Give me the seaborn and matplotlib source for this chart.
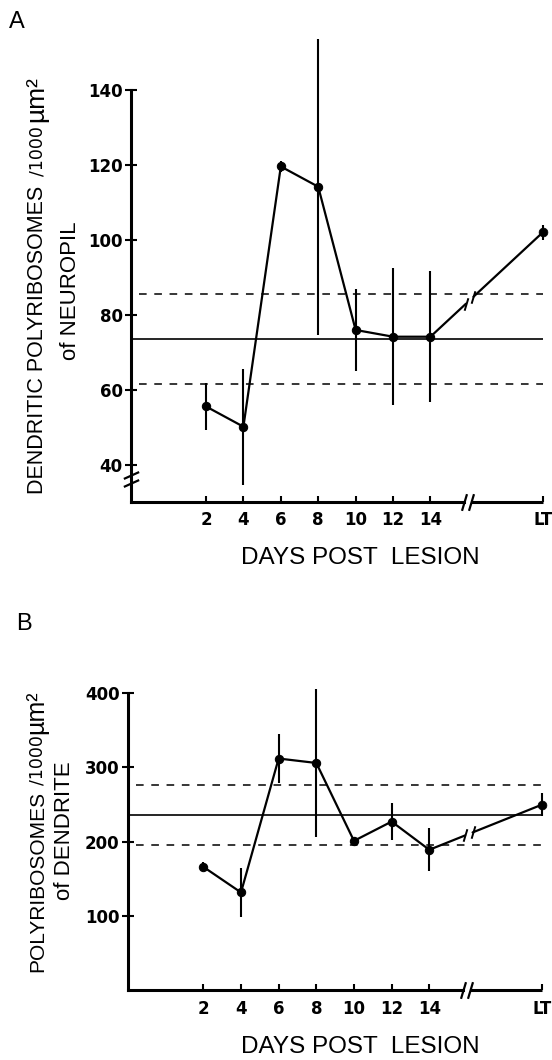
import numpy as np
import matplotlib
matplotlib.use("Agg")
import matplotlib.pyplot as plt
import seaborn as sns

W, H = 552, 1060

DAYS = [2, 4, 6, 8, 10, 12, 14]
X_TICK_LABELS = ["2", "4", "6", "8", "10", "12", "14", "LT"]
LT_POS = 20        # long-term point sits after the axis break
BREAK_POS = 16

# A: dendritic polyribosomes / 1000 um2 of neuropil
NEUROPIL_MEAN = [55.6, 50.2, 119.6, 114.2, 76.0, 74.2, 74.2]
NEUROPIL_ERR = [6.2, 15.5, 1.5, 39.5, 11.0, 18.3, 17.5]
NEUROPIL_LT = 102.0
NEUROPIL_LT_ERR = 2.0
NEUROPIL_CTRL = 73.7
NEUROPIL_CTRL_SD = 12.0
NEUROPIL_YTICKS = [40, 60, 80, 100, 120, 140]

# B: polyribosomes / 1000 um2 of dendrite
DENDRITE_MEAN = [166, 131.5, 312, 306, 201, 227, 189]
DENDRITE_ERR = [6, 33, 33, 100, 5, 25, 29]
DENDRITE_LT = 250
DENDRITE_LT_ERR = 15
DENDRITE_CTRL = 236
DENDRITE_CTRL_SD = 40
DENDRITE_YTICKS = [100, 200, 300, 400]

sns.set_style("ticks")
plt.rcParams["font.family"] = ["Liberation Sans", "DejaVu Sans"]
plt.rcParams.update({"text.color": "k", "axes.edgecolor": "k", "xtick.color": "k",
                     "ytick.color": "k", "axes.labelcolor": "k"})

SLASH = [(-0.3, -1), (0.3, 1)]


def panel(ax, mean, err, lt, lt_err, ctrl, sd, ybot, ytop, yticks, ylim_top):
    ax.set_xlim(-2, 20.5)
    ax.set_ylim(ybot, ylim_top)

    # control mean +- SD
    ax.hlines(ctrl, -2, LT_POS, color="k", lw=1.2)
    ax.hlines([ctrl - sd, ctrl + sd], -1.6, LT_POS, color="k", lw=1.1, linestyles=(0, (5, 5)))

    sns.lineplot(x=DAYS, y=mean, ax=ax, color="k", lw=1.6, marker="o", ms=6, mec="k", legend=False)
    ax.errorbar(DAYS + [LT_POS], mean + [lt], yerr=err + [lt_err], fmt="none",
                ecolor="k", elinewidth=1.5, capsize=0)
    sns.scatterplot(x=[LT_POS], y=[lt], ax=ax, color="k", s=40, edgecolor="k", legend=False)

    # broken connection 14 -> LT
    xs, ys = [DAYS[-1], LT_POS], [mean[-1], lt]
    g0, g1 = BREAK_POS - 0.1, BREAK_POS + 0.3
    y0, y1 = np.interp([g0, g1], xs, ys)
    ax.plot([DAYS[-1], g0], [mean[-1], y0], color="k", lw=1.6)
    ax.plot([g1, LT_POS], [y1, lt], color="k", lw=1.6)
    ax.plot([g0, g1], [y0, y1], ls="none", marker=SLASH, ms=9, mec="k", mew=1.4)

    # axes with break on x
    sns.despine(ax=ax)
    for s in ["left", "bottom"]:
        ax.spines[s].set_linewidth(2.2)
    ax.spines["left"].set_bounds(ybot, ytop)
    ax.spines["bottom"].set_bounds(-2, BREAK_POS - 0.2)
    ax.plot([BREAK_POS + 0.15, LT_POS], [ybot, ybot], color="k", lw=2.2,
            clip_on=False, solid_capstyle="butt")
    ax.plot([BREAK_POS - 0.2, BREAK_POS + 0.15], [ybot, ybot], ls="none", marker=SLASH,
            ms=12, mec="k", mew=1.6, clip_on=False)

    ax.set_xticks(DAYS + [LT_POS], X_TICK_LABELS)
    ax.set_yticks(yticks)
    ax.tick_params(axis="x", direction="in", length=4, width=1.5, pad=7)
    ax.tick_params(axis="y", direction="inout", length=8, width=1.5, pad=2)
    for lab in ax.get_xticklabels() + ax.get_yticklabels():
        lab.set_fontfamily("DejaVu Sans")
        lab.set_fontweight("bold")
        lab.set_fontsize(12)
    ax.set_xlabel("")
    ax.set_ylabel("")


def rotated_label(fig, x_px, yc_px, pieces):
    # pieces of one vertical line of text, each with own font, centred on yc_px
    renderer = fig.canvas.get_renderer()
    texts, lengths = [], []
    for s, size, family, gap in pieces:
        t = fig.text(x_px / W, 0, s, fontsize=size, family=family, rotation=90,
                     rotation_mode="anchor", ha="left", va="baseline")
        texts.append(t)
        lengths.append(t.get_window_extent(renderer).height + gap)
    start = (H - yc_px) - sum(lengths) / 2
    for t, L in zip(texts, lengths):
        t.set_position((x_px / W, start / H))
        start += L


fig = plt.figure(figsize=(W / 100, H / 100), dpi=100)
axA = fig.add_axes([131.2 / W, 1 - 501.7 / H, 420.8 / W, 486.7 / H])
axB = fig.add_axes([128 / W, 1 - 990 / H, 423.7 / W, 311.6 / H])

panel(axA, NEUROPIL_MEAN, NEUROPIL_ERR, NEUROPIL_LT, NEUROPIL_LT_ERR,
      NEUROPIL_CTRL, NEUROPIL_CTRL_SD, 30.2, 140, NEUROPIL_YTICKS, 160)
panel(axB, DENDRITE_MEAN, DENDRITE_ERR, DENDRITE_LT, DENDRITE_LT_ERR,
      DENDRITE_CTRL, DENDRITE_CTRL_SD, 0, 400, DENDRITE_YTICKS, 420)

# y-axis break marks in A
axA.plot([-2, -2], [37.3, 35.2], ls="none", marker=[(-1, -0.45), (1, 0.45)], ms=11,
         mec="k", mew=1.6, clip_on=False)

fig.text(16.5 / W, 1 - 22.5 / H, "A", fontsize=17, ha="center", va="center")
fig.text(24 / W, 1 - 623.5 / H, "B", fontsize=17, ha="center", va="center")

fig.text(360 / W, 1 - 558 / H, "DAYS POST  LESION", fontsize=17.5, ha="center", va="center")
fig.text(360 / W, 1 - 1047 / H, "DAYS POST  LESION", fontsize=17.5, ha="center", va="center")

SANS = "Liberation Sans"
DIGITS = "DejaVu Sans"
rotated_label(fig, 43, 285, [("DENDRITIC POLYRIBOSOMES", 15.5, SANS, 9),
                             ("/1000", 12.5, DIGITS, 4), ("µm²", 19, SANS, 0)])
rotated_label(fig, 76, 291, [("of NEUROPIL", 16, SANS, 0)])
rotated_label(fig, 43, 831, [("POLYRIBOSOMES", 15, SANS, 6),
                             ("/1000", 12.5, DIGITS, 1), ("µm²", 18, SANS, 0)])
rotated_label(fig, 70, 831, [("of DENDRITE", 16, SANS, 0)])

fig.savefig("out.png", dpi=100)
plt.close(fig)
